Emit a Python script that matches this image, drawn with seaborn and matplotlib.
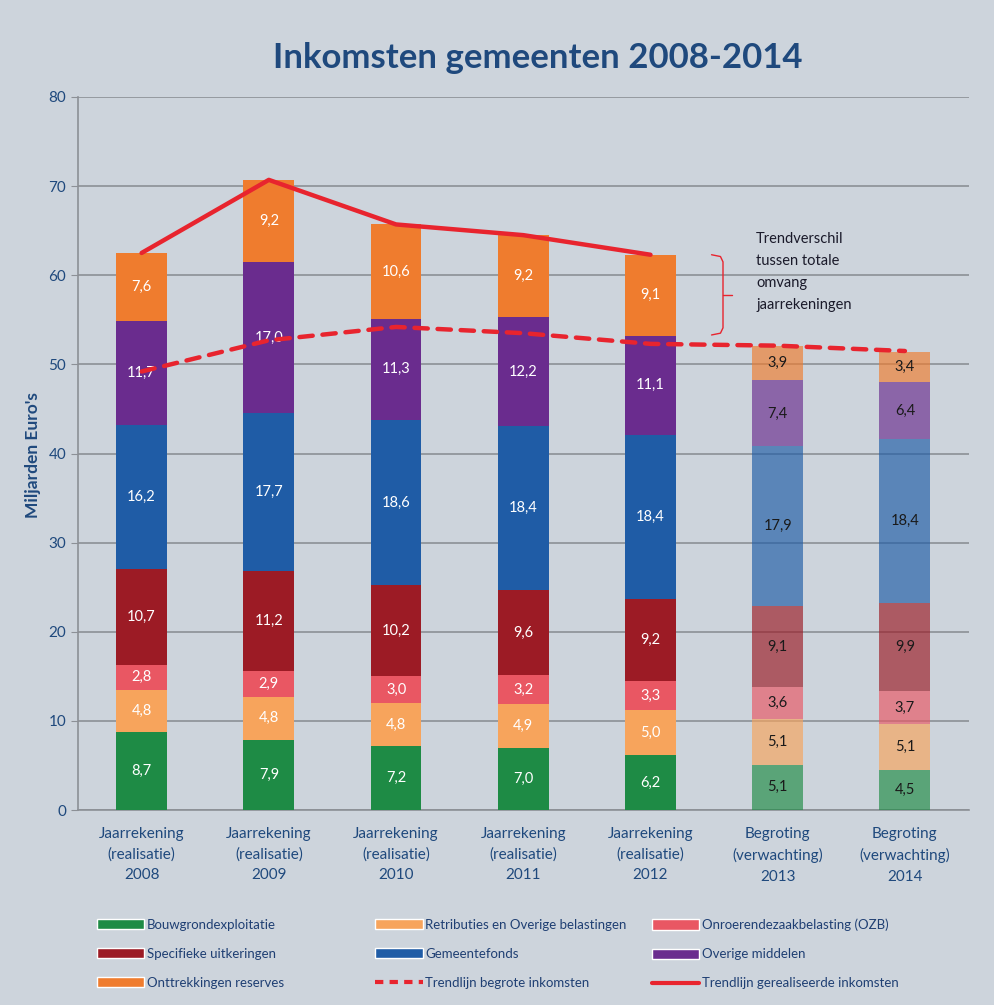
import numpy as np
import pandas as pd
import seaborn as sns
import matplotlib.pyplot as plt
from matplotlib.patches import Patch
from matplotlib.lines import Line2D

# categories
years = ["2008", "2009", "2010", "2011", "2012", "2013", "2014"]
kinds = ["Jaarrekening\n(realisatie)"] * 5 + ["Begroting\n(verwachting)"] * 2
tick_labels = [f"{k}\n{y}" for k, y in zip(kinds, years)]

# stacked series, bottom to top (miljarden euro)
bouwgrond = [8.7, 7.9, 7.2, 7.0, 6.2, 5.1, 4.5]
retributies = [4.8, 4.8, 4.8, 4.9, 5.0, 5.1, 5.1]
ozb = [2.8, 2.9, 3.0, 3.2, 3.3, 3.6, 3.7]
specifiek = [10.7, 11.2, 10.2, 9.6, 9.2, 9.1, 9.9]
gemeentefonds = [16.2, 17.7, 18.6, 18.4, 18.4, 17.9, 18.4]
overige = [11.7, 17.0, 11.3, 12.2, 11.1, 7.4, 6.4]
onttrekkingen = [7.6, 9.2, 10.6, 9.2, 9.1, 3.9, 3.4]

# trend lines
trend_begroot = [49.2, 52.7, 54.2, 53.5, 52.3, 52.1, 51.5]
trend_realisatie = [62.5, 70.7, 65.7, 64.5, 62.3]

series = [
    ("Bouwgrondexploitatie", bouwgrond, "#1e8b45"),
    ("Retributies en Overige belastingen", retributies, "#f7a45c"),
    ("Onroerendezaakbelasting (OZB)", ozb, "#e95763"),
    ("Specifieke uitkeringen", specifiek, "#9c1b25"),
    ("Gemeentefonds", gemeentefonds, "#1f5ca6"),
    ("Overige middelen", overige, "#6a2c8e"),
    ("Onttrekkingen reserves", onttrekkingen, "#ef7c2e"),
]

BG = "#cdd4dc"
NAVY = "#1f497d"
TREND = "#e8242e"
GRID = "#8c9096"


def main():
    sns.set_style("white")
    plt.rcParams["font.family"] = ["Lato", "DejaVu Sans"]

    fig = plt.figure(figsize=(9.95, 10.05), dpi=100, facecolor=BG)
    ax = fig.add_axes([0.0784, 0.194, 0.895, 0.7095])
    ax.set_facecolor(BG)

    bottom = np.zeros(len(years))
    for name, values, color in series:
        df = pd.DataFrame({"cat": tick_labels, "value": values})
        sns.barplot(
            data=df, x="cat", y="value", order=tick_labels, color=color,
            saturation=1, width=0.4, bottom=bottom, ax=ax, zorder=3,
            linewidth=0,
        )
        cont = ax.containers[-1]
        # budget years are drawn see-through
        for i, bar in enumerate(cont.patches):
            if i >= 5:
                bar.set_alpha(0.66)
        texts = ax.bar_label(
            cont, labels=[f"{v:.1f}".replace(".", ",") for v in values],
            label_type="center", fontsize=10.5, zorder=5,
        )
        for i, t in enumerate(texts):
            t.set_color("white" if i < 5 else "#1a1a1a")
        bottom = bottom + np.array(values)

    x = np.arange(len(years))
    ax.plot(x, trend_begroot, color=TREND, lw=3.2, ls=(0, (3, 2.2)), zorder=6,
            dash_capstyle="round")
    ax.plot(x[:5], trend_realisatie, color=TREND, lw=3.2, zorder=6)

    # brace
    bx, by0, by1 = 4.57, 53.3, 62.3
    ym = (by0 + by1) / 2
    ax.plot([4.48, 4.55, bx, bx, 4.55, 4.48], [by1, by1 - 0.2, by1 - 0.8, by0 + 0.8, by0 + 0.2, by0],
            color=TREND, lw=1, zorder=6)
    ax.plot([bx, 4.64], [ym, ym], color=TREND, lw=1, zorder=6)
    ax.text(4.83, 64.8, "Trendverschil\ntussen totale\nomvang\njaarrekeningen",
            fontsize=10.5, color="#1a1a2a", va="top", ha="left", linespacing=1.72,
            zorder=7)

    ax.set_xlim(-0.5, 6.5)
    ax.set_ylim(0, 80)
    ax.set_yticks(range(0, 81, 10))
    ax.yaxis.grid(True, color=GRID, lw=1.2, zorder=0)
    ax.set_axisbelow(True)
    ax.set_xlabel("")
    ax.set_ylabel("")
    ax.set_xticks(x)
    ax.set_xticklabels(tick_labels, fontsize=11, color=NAVY, linespacing=1.6)
    ax.set_xticks(np.arange(-0.5, 7, 1), minor=True)
    ax.tick_params(axis="x", which="major", length=0, pad=12)
    ax.tick_params(axis="x", which="minor", length=6, color=GRID, direction="out")
    ax.tick_params(axis="y", length=5, color=GRID, labelsize=11, labelcolor=NAVY, left=True)
    for s in ["top", "right"]:
        ax.spines[s].set_visible(False)
    for s in ["left", "bottom"]:
        ax.spines[s].set_color(GRID)
        ax.spines[s].set_linewidth(1.2)

    fig.text(0.54, 0.942, "Inkomsten gemeenten 2008-2014", fontsize=25,
             fontweight="bold", color=NAVY, ha="center", va="center")
    fig.text(0.033, 0.547, "Miljarden Euro's", fontsize=12.5, fontweight="bold",
             color=NAVY, rotation=90, ha="center", va="center")

    handles = [Patch(facecolor=c, label=n) for n, _, c in series]
    handles.append(Line2D([], [], color=TREND, lw=3, ls=(0, (2, 1.5)), label="Trendlijn begrote inkomsten"))
    handles.append(Line2D([], [], color=TREND, lw=3, label="Trendlijn gerealiseerde inkomsten"))
    columns = [[0, 3, 6], [1, 4, 7], [2, 5, 8]]
    xs = [0.097, 0.377, 0.655]
    for xc, idx in zip(xs, columns):
        leg = fig.legend(
            handles=[handles[i] for i in idx], loc="upper left",
            bbox_to_anchor=(xc, 0.086), frameon=False, fontsize=9.5,
            handlelength=3.6, handleheight=0.8, handletextpad=0.2,
            labelspacing=1.3, borderpad=0, borderaxespad=0,
        )
        for t in leg.get_texts():
            t.set_color("#1f3f73")

    fig.savefig("out.png", dpi=100, facecolor=BG)


if __name__ == "__main__":
    main()
